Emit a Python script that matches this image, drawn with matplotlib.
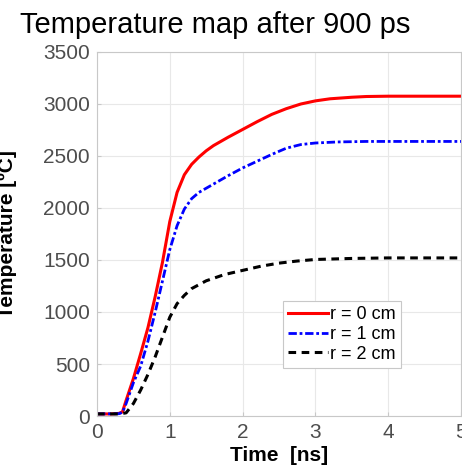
import numpy as np
import matplotlib
matplotlib.use("Agg")
import matplotlib.pyplot as plt

plt.rcParams['font.family'] = ['Liberation Sans', 'DejaVu Sans']

# r = 0 cm
t_r0 = [0, 0.1, 0.2, 0.3, 0.35, 0.4, 0.5, 0.6, 0.7, 0.8, 0.9, 1.0, 1.1, 1.2, 1.3,
        1.4, 1.5, 1.6, 1.8, 2.0, 2.2, 2.4, 2.6, 2.8, 3.0, 3.2, 3.5, 3.7, 4.0, 4.5, 5.0]
T_r0 = [20, 20, 20, 25, 40, 150, 360, 600, 850, 1150, 1480, 1870, 2150, 2320, 2420,
        2490, 2550, 2600, 2680, 2755, 2830, 2900, 2955, 3000, 3030, 3050, 3065, 3072, 3075, 3075, 3075]

# r = 1 cm
t_r1 = [0, 0.3, 0.35, 0.4, 0.5, 0.6, 0.7, 0.8, 0.9, 1.0, 1.1, 1.2, 1.3, 1.4, 1.5, 1.6,
        1.8, 2.0, 2.2, 2.4, 2.6, 2.8, 3.0, 3.3, 3.7, 4.0, 5.0]
T_r1 = [20, 22, 35, 120, 320, 480, 720, 1000, 1300, 1600, 1830, 1990, 2090, 2150, 2190, 2230,
        2310, 2385, 2450, 2515, 2575, 2610, 2625, 2635, 2640, 2640, 2640]

# r = 2 cm
t_r2 = [0, 0.3, 0.4, 0.5, 0.6, 0.7, 0.8, 0.9, 1.0, 1.1, 1.2, 1.3, 1.5, 1.75, 2.0,
        2.25, 2.5, 2.75, 3.0, 3.5, 4.0, 5.0]
T_r2 = [20, 20, 30, 120, 250, 400, 570, 760, 950, 1080, 1160, 1225, 1300, 1360, 1400,
        1440, 1470, 1490, 1505, 1515, 1520, 1520]

fig = plt.figure(figsize=(4.62, 4.68), dpi=100)
ax = fig.add_axes([97/462, 1 - 416/468, 364/462, 364/468])

ax.plot(t_r0, T_r0, color='#ff0000', lw=2.2, label='r = 0 cm')
ax.plot(t_r1, T_r1, color='#0000ff', lw=2.0, ls=(0, (3, 1, 1, 1)), label='r = 1 cm')
ax.plot(t_r2, T_r2, color='black', lw=2.2, ls=(0, (2.5, 1.8)), label='r = 2 cm')

ax.set_xlim(0, 5)
ax.set_ylim(0, 3500)
ax.set_xticks(range(0, 6))
ax.set_yticks(range(0, 3501, 500))
ax.grid(True, color='#e8e8e8', lw=0.8)
ax.set_axisbelow(True)
for s in ax.spines.values():
    s.set_color('#c8c8c8')
    s.set_linewidth(0.8)
ax.tick_params(direction='in', length=3, color='#c8c8c8', labelsize=15,
               labelcolor='#4d4d4d', pad=5)

ax.set_xlabel('Time  [ns]', fontsize=15, fontweight='bold', labelpad=3)
fig.text(7/462, 1 - 234/468, 'Temperature [ºC]', rotation=90, fontsize=15,
         fontweight='bold', ha='center', va='center')
fig.text(20/462, 1 - 33/468, 'Temperature map after 900 ps', fontsize=21,
         ha='left', va='baseline')

leg = ax.legend(loc='lower left', bbox_to_anchor=(0.511, 0.132), borderaxespad=0,
                fontsize=13, fancybox=False, handlelength=2.2, handletextpad=0.1,
                labelspacing=0.15, borderpad=0.3, framealpha=1)
leg.get_frame().set_edgecolor('#c8c8c8')
leg.get_frame().set_linewidth(0.8)

fig.savefig('out.png', dpi=100)
